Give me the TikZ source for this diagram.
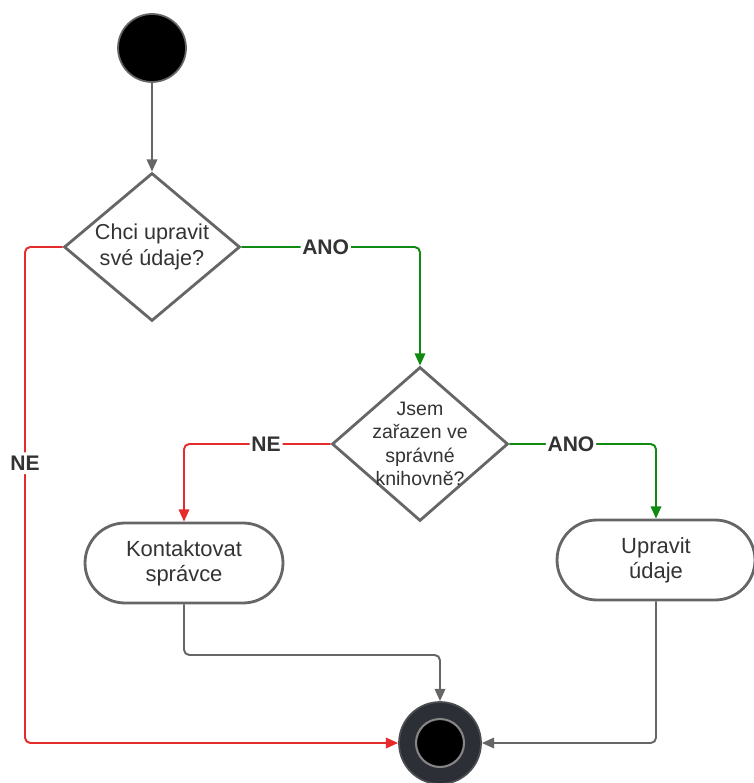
\documentclass[tikz,border=0pt]{standalone}
\usepackage{fontspec}
\setmainfont{Liberation Sans}
\usetikzlibrary{arrows.meta,shapes.geometric}
\definecolor{fcred}{RGB}{229,43,43}
\definecolor{fcgreen}{RGB}{16,138,16}
\definecolor{fcgray}{RGB}{102,102,102}
\definecolor{fctext}{RGB}{51,51,51}
\definecolor{fcend}{RGB}{44,47,54}

\begin{document}
\begin{tikzpicture}[x=0.02cm,y=-0.02cm,
  decision/.style={diamond,draw=fcgray,line width=1.6pt,fill=white,inner sep=0pt,aspect=1.19,
    minimum width=3.52cm,minimum height=2.96cm,align=center,text=fctext},
  activity/.style={rectangle,rounded corners=0.8cm,draw=fcgray,line width=1.6pt,
    minimum width=3.96cm,minimum height=1.6cm,align=center,text=fctext,
    font=\fontsize{12.5}{14.2}\selectfont},
  flow/.style={line width=1.1pt,rounded corners=3pt,-{Triangle[length=7pt,width=6pt]}},
  guard/.style={fill=white,inner xsep=1pt,inner ysep=2pt,text=fctext,
    font=\fontsize{12}{14}\selectfont\bfseries}]
\useasboundingbox (0,0) rectangle (753,783);
% start and end
\node[circle,fill=black,draw=fcgray,line width=1pt,minimum size=1.36cm] (start) at (152,48) {};
\node[circle,fill=fcend,draw=fcend!85!white,line width=1pt,minimum size=1.64cm] (stop) at (440,743) {};
\node[circle,fill=black,draw=fcgray!80!white,line width=1.2pt,minimum size=0.96cm] (stopin) at (stop) {};
% decisions
\node[decision,font=\fontsize{12.3}{14.7}\selectfont] (edit) at (152,247) {Chci upravit\\své údaje?};
\node[decision,inner sep=-4pt,aspect=1.2,minimum height=3.08cm,font=\fontsize{11.1}{13.3}\selectfont] (lib) at (420,444)
  {Jsem\\zařazen ve\\správné\\knihovně?};
% activities
\node[activity] (admin) at (184,563) {Kontaktovat\\správce};
\node[activity] (update) at (656,560) {Upravit\\údaje};
\coordinate (adminjoin) at (440,655);
\coordinate (necorner) at (25,743);
% flows
\draw[flow,fcgray] (start) -- (edit);
\draw[flow,fcgreen] (edit.east) -| node[guard,pos=0.236] {ANO} (lib.north);
\draw[flow,fcred] (lib.west) -| node[guard,pos=0.22] {NE} (admin.north);
\draw[flow,fcgreen] (lib.east) -| node[guard,pos=0.21] {ANO} (update.north);
\draw[flow,fcgray] (admin.south) |- (adminjoin) -- (stop.north);
\draw[flow,fcgray] (update.south) |- (stop.east);
\draw[flow,fcred] (edit.west) -| node[guard,pos=0.718] {NE} (necorner) -- (stop.west);
\end{tikzpicture}
\end{document}
